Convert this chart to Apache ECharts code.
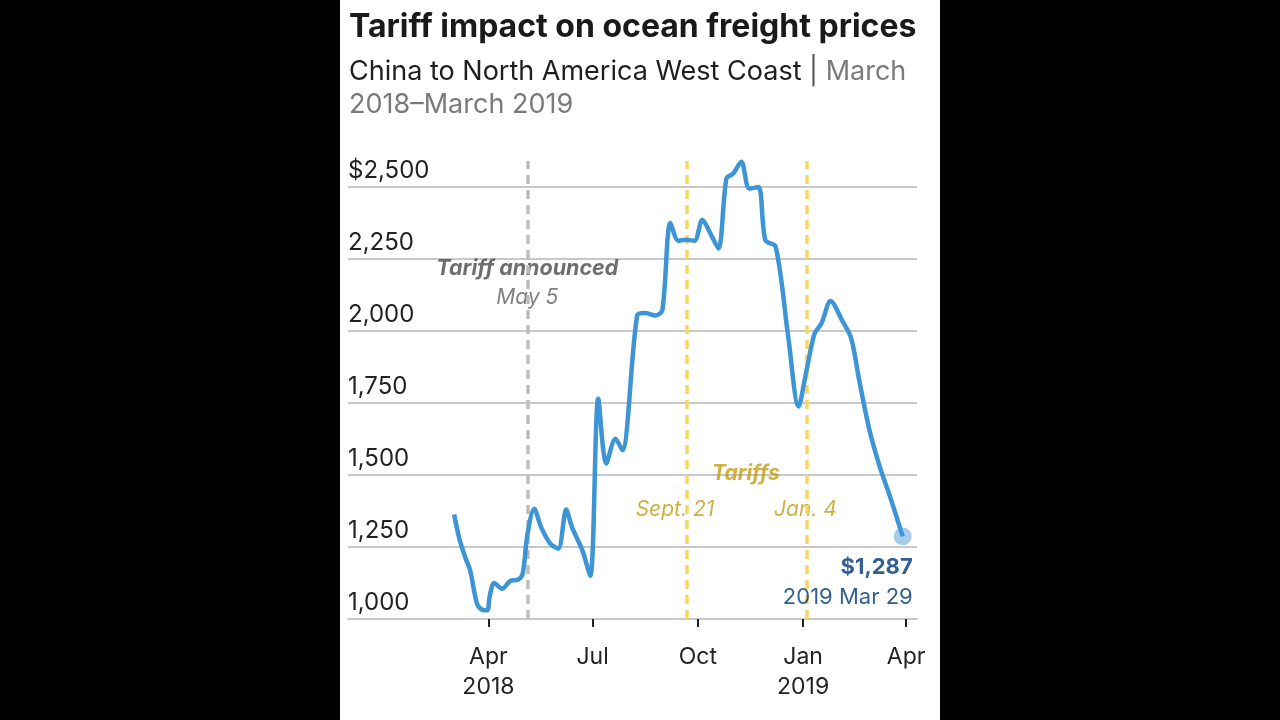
<!DOCTYPE html>
<html><head><meta charset="utf-8">
<script src="https://cdn.jsdelivr.net/npm/echarts@6/dist/echarts.min.js"></script>
<style>
html,body{margin:0;padding:0;background:#000;width:1280px;height:720px;overflow:hidden}
#c{position:absolute;left:340px;top:0;width:600px;height:720px;background:#fff}
</style>
</head><body><div id="c"></div>
<script>
// ---- data ----
const dates = ['2018-03-02','2018-03-07','2018-03-12','2018-03-16','2018-03-22','2018-03-26','2018-03-31',
  '2018-04-02','2018-04-06','2018-04-13','2018-04-20','2018-04-27','2018-05-01','2018-05-05','2018-05-11',
  '2018-05-17','2018-05-25','2018-06-01','2018-06-08','2018-06-13','2018-06-22','2018-06-29','2018-07-06',
  '2018-07-13','2018-07-21','2018-07-27','2018-08-09','2018-08-16','2018-08-25','2018-08-31','2018-09-07',
  '2018-09-14','2018-09-21','2018-09-28','2018-10-05','2018-10-12','2018-10-19','2018-10-26','2018-11-01',
  '2018-11-08','2018-11-15','2018-11-23','2018-11-29','2018-12-08','2018-12-19','2018-12-28','2019-01-04',
  '2019-01-11','2019-01-17','2019-01-25','2019-02-04','2019-02-12','2019-02-19','2019-02-28','2019-03-09',
  '2019-03-18','2019-03-29'];
const prices = [1363,1273,1211,1169,1053,1033,1030,
  1076,1125,1105,1132,1137,1158,1291,1383,
  1319,1262,1244,1380,1319,1239,1150,1765,
  1540,1626,1586,2054,2062,2054,2072,2375,
  2313,2317,2313,2386,2338,2286,2529,2547,
  2587,2494,2500,2315,2292,1979,1738,1864,
  1991,2026,2104,2037,1974,1829,1655,1528,
  1424,1287];
const xTickDates = ['2018-04-01','2018-07-01','2018-10-01','2019-01-01','2019-04-01'];
const xTickLabels = ['Apr\n2018','Jul','Oct','Jan\n2019','Apr'];
const yTickValues = [1000,1250,1500,1750,2000,2250,2500];
const yTickLabels = ['1,000','1,250','1,500','1,750','2,000','2,250','$2,500'];
const announceDate = '2018-05-05';
const tariffDates = ['2018-09-21','2019-01-04'];
const annotations = [
  {date:'2018-05-05', value:2218, text:'Tariff announced', kind:'grayBold'},
  {date:'2018-05-05', value:2117, text:'May 5', kind:'gray'},
  {date:'2018-11-12', value:1506, text:'Tariffs', kind:'goldBold'},
  {date:'2018-09-11', value:1381, text:'Sept. 21', kind:'gold'},
  {date:'2019-01-03', value:1381, text:'Jan. 4', kind:'gold'}
];
const lastLabel = {price:'$1,287', date:'2019 Mar 29'};

// ---- helpers ----
function utc(s){const p=s.split('-').map(Number);return Date.UTC(p[0],p[1]-1,p[2]);}
const DAY=86400000;
const xMin = utc('2018-04-01') - 122.7*DAY;
const xMax = utc('2019-04-01') + 9.5*DAY;
const FONT = 'Inter';

const lineData = dates.map((d,i)=>[utc(d),prices[i]]);
const tickTs = xTickDates.map(utc);

const GOLD = '#c49c12';
const styles = {
  grayBold:{color:'#4a4a4a',fontWeight:'bold',fontStyle:'italic',fontSize:21.5},
  gray:{color:'#606060',fontStyle:'italic',fontSize:21},
  goldBold:{color:GOLD,fontWeight:'bold',fontStyle:'italic',fontSize:21},
  gold:{color:GOLD,fontStyle:'italic',fontSize:21}
};

const chart = echarts.init(document.getElementById('c'), null, {renderer:'canvas'});
chart.setOption({
  animation:false,
  backgroundColor:'#fff',
  textStyle:{fontFamily:FONT},
  title:{
    left:9, top:11, padding:0,
    text:'Tariff impact on ocean freight prices',
    subtext:'China to North America West Coast {p|| }{g|March}\n{g|2018–March 2019}',
    itemGap:12,
    textStyle:{fontFamily:FONT,fontSize:32,fontWeight:'bold',color:'#1a1a1a'},
    subtextStyle:{fontFamily:FONT,fontSize:27,color:'#1e1e1e',lineHeight:33,
      rich:{g:{fontFamily:FONT,fontSize:27,color:'#7a7a7a',lineHeight:33},
            p:{fontFamily:FONT,fontSize:27,color:'#555',lineHeight:33}}}
  },
  grid:{left:8,right:23,top:161,bottom:101,containLabel:false},
  xAxis:{
    type:'value', min:xMin, max:xMax, scale:true,
    axisLine:{show:true,lineStyle:{color:'#c8c8c8',width:2}},
    axisTick:{show:true,length:8,lineStyle:{color:'#222',width:2},customValues:tickTs},
    axisLabel:{customValues:tickTs,margin:23,fontSize:23,color:'#222',lineHeight:30,fontFamily:FONT,
      formatter:function(v){const i=tickTs.indexOf(v);return i>=0?xTickLabels[i]:'';}},
    splitLine:{show:false}
  },
  yAxis:{
    type:'value', min:1000, max:2590, interval:250,
    axisLine:{show:false}, axisTick:{show:false},
    splitLine:{show:true,showMinLine:true,showMaxLine:false,lineStyle:{color:'#c8c8c8',width:2}},
    axisLabel:{inside:true,margin:0,verticalAlign:'bottom',padding:[0,0,4,0],fontSize:24,color:'#222',fontFamily:FONT,
      showMaxLabel:false,
      formatter:function(v){const i=yTickValues.indexOf(v);return i>=0?yTickLabels[i]:'';}}
  },
  series:[
    {
      type:'line', data:lineData, showSymbol:false, smooth:0.3,
      lineStyle:{color:'#3d95d6',width:4.5}, z:5, clip:false,
      markLine:{
        silent:true, symbol:['none','none'], label:{show:false},
        data:[
          {xAxis:utc(announceDate), lineStyle:{color:'#bdbdbd',width:3.5,type:[9,6]}},
          {xAxis:utc(tariffDates[0]), lineStyle:{color:'#f8d760',width:3.5,type:[9,6]}},
          {xAxis:utc(tariffDates[1]), lineStyle:{color:'#f8d760',width:3.5,type:[9,6]}}
        ]
      }
    },
    {
      type:'scatter', data:[lineData[lineData.length-1]], symbolSize:18, z:6,
      itemStyle:{color:'rgba(74,150,214,0.6)'},
      label:{show:true,position:[19,25],align:'right',verticalAlign:'top',
        formatter:'{a|'+lastLabel.price+'}\n{b|'+lastLabel.date+'}',
        rich:{a:{fontFamily:FONT,fontSize:22,fontWeight:'bold',color:'#00377a',lineHeight:30,align:'right'},
              b:{fontFamily:FONT,fontSize:22,color:'#00377a',lineHeight:30,align:'right'}}}
    },
    {
      type:'scatter', symbolSize:0, z:4, silent:true,
      data:annotations.map(a=>({value:[utc(a.date),a.value],
        label:Object.assign({show:true,position:'inside',formatter:a.text,fontFamily:FONT},styles[a.kind])}))
    }
  ]
});
</script>
</body></html>
